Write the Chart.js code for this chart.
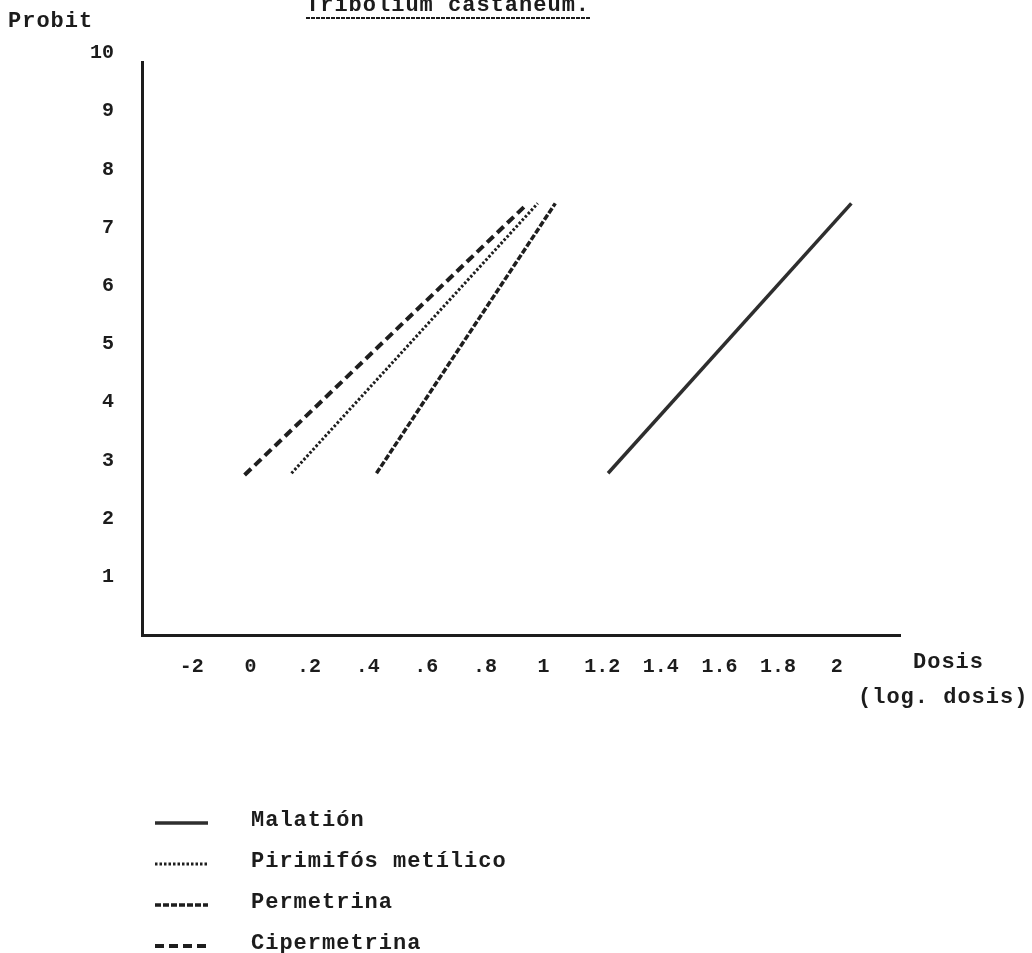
<!DOCTYPE html>
<html>
<head>
<meta charset="utf-8">
<script src="https://cdn.jsdelivr.net/npm/chart.js@4.4.1/dist/chart.umd.min.js"></script>
<style>
  html, body { margin: 0; padding: 0; background: #fff; }
  #wrap { width: 1032px; height: 953px; }
</style>
</head>
<body>
<div id="wrap"><canvas id="probitChart" width="1032" height="953"></canvas></div>
<script>
// Axis ticks as typed on the original sheet
const xTickValues = [-0.2, 0, 0.2, 0.4, 0.6, 0.8, 1, 1.2, 1.4, 1.6, 1.8, 2];
const xTickLabels = ['-2', '0', '.2', '.4', '.6', '.8', '1', '1.2', '1.4', '1.6', '1.8', '2'];
const yTickValues = [1, 2, 3, 4, 5, 6, 7, 8, 9, 10];
const yTickLabels = ['1', '2', '3', '4', '5', '6', '7', '8', '9', '10'];

// Series (log. dosis, probit) - start and end of each fitted line
const seriesNames = ['Malatión', 'Pirimifós metílico', 'Permetrina', 'Cipermetrina'];
const malationX = [1.22, 2.05];
const malationY = [2.78, 7.42];
const pirimifosX = [0.14, 0.98];
const pirimifosY = [2.78, 7.42];
const permetrinaX = [0.43, 1.04];
const permetrinaY = [2.78, 7.42];
const cipermetrinaX = [-0.02, 0.94];
const cipermetrinaY = [2.75, 7.39];

const ink = '#1c1c1c';
const mono = '"Liberation Mono", "DejaVu Sans Mono", monospace';

function pairs(xs, ys) {
  return xs.map((x, i) => ({ x: x, y: ys[i] }));
}

// Draws the title, axis captions and the legend block under the plot
const sheetText = {
  id: 'sheetText',
  afterDraw(chart) {
    const ctx = chart.ctx;
    ctx.save();
    ctx.letterSpacing = '1px';
    ctx.fillStyle = ink;
    ctx.font = 'bold 22px ' + mono;

    ctx.textBaseline = 'alphabetic';
    ctx.textAlign = 'left';
    ctx.fillText('Tribolium castaneum.', 306, 11);
    ctx.strokeStyle = ink;
    ctx.lineWidth = 2;
    ctx.setLineDash([4, 1]);
    ctx.beginPath();
    ctx.moveTo(306, 18);
    ctx.lineTo(590, 18);
    ctx.stroke();
    ctx.setLineDash([]);

    ctx.textBaseline = 'middle';
    ctx.fillText('Probit', 8, 21);
    ctx.fillText('Dosis', 913, 662);
    ctx.fillText('(log. dosis)', 858, 697);

    // legend
    const rows = [820, 861, 902, 943];
    chart.data.datasets.forEach((ds, i) => {
      const y = rows[i];
      ctx.strokeStyle = ds.borderColor;
      ctx.lineWidth = ds.borderWidth;
      ctx.setLineDash(ds.borderDash || []);
      ctx.beginPath();
      ctx.moveTo(155, y + 3);
      ctx.lineTo(208, y + 3);
      ctx.stroke();
      ctx.setLineDash([]);
      ctx.fillText(ds.label, 251, y);
    });
    ctx.restore();
  }
};

const ctx = document.getElementById('probitChart').getContext('2d');
new Chart(ctx, {
  type: 'scatter',
  data: {
    datasets: [
      {
        label: seriesNames[0],
        data: pairs(malationX, malationY),
        borderColor: '#2e2e2e',
        borderWidth: 3.5,
        borderDash: []
      },
      {
        label: seriesNames[1],
        data: pairs(pirimifosX, pirimifosY),
        borderColor: '#1e1e1e',
        borderWidth: 3,
        borderDash: [2.5, 2]
      },
      {
        label: seriesNames[2],
        data: pairs(permetrinaX, permetrinaY),
        borderColor: '#1e1e1e',
        borderWidth: 3.5,
        borderDash: [6, 2]
      },
      {
        label: seriesNames[3],
        data: pairs(cipermetrinaX, cipermetrinaY),
        borderColor: '#1e1e1e',
        borderWidth: 4,
        borderDash: [9, 5]
      }
    ].map(ds => Object.assign(ds, { showLine: true, pointRadius: 0, fill: false, tension: 0 }))
  },
  options: {
    responsive: false,
    animation: false,
    events: [],
    layout: { padding: { left: 0, right: 132, top: 62, bottom: 258 } },
    plugins: {
      legend: { display: false },
      tooltip: { enabled: false }
    },
    scales: {
      x: {
        type: 'linear',
        min: -0.37,
        max: 2.216,
        afterBuildTicks: scale => { scale.ticks = xTickValues.map(v => ({ value: v })); },
        afterFit: scale => { scale.height = 60; },
        grid: { display: false },
        border: { display: true, color: ink, width: 3 },
        ticks: {
          autoSkip: false,
          maxRotation: 0,
          padding: 12,
          color: ink,
          font: { family: mono, size: 20, weight: 'bold' },
          callback: (value, index) => xTickLabels[index]
        }
      },
      y: {
        type: 'linear',
        min: 0,
        max: 9.85,
        afterBuildTicks: scale => { scale.ticks = yTickValues.map(v => ({ value: v })); },
        afterFit: scale => { scale.width = 142; },
        grid: { display: false },
        border: { display: true, color: ink, width: 3 },
        ticks: {
          autoSkip: false,
          padding: 20,
          color: ink,
          font: { family: mono, size: 20, weight: 'bold' },
          callback: (value, index) => yTickLabels[index]
        }
      }
    }
  },
  plugins: [sheetText]
});
</script>
</body>
</html>
